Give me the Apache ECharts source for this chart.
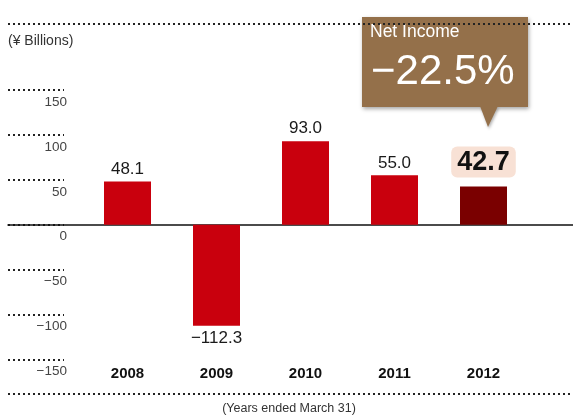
<!DOCTYPE html>
<html><head><meta charset="utf-8">
<script src="https://cdn.jsdelivr.net/npm/echarts@6/dist/echarts.min.js"></script>
<style>html,body{margin:0;padding:0;background:#fff}#c{width:573px;height:420px}</style>
</head><body><div id="c"></div>
<script>
var years = ['2008', '2009', '2010', '2011', '2012'];
var netIncome = [48.1, -112.3, 93.0, 55.0, 42.7];
var valueLabels = ['48.1', '\u2212112.3', '93.0', '55.0', '42.7'];
var yTicks = [-150, -100, -50, 0, 50, 100, 150];
var unitLabel = '(\u00a5 Billions)';
var xNote = '(Years ended March 31)';
var calloutTitle = 'Net Income';
var calloutValue = '\u221222.5%';

var FONT = "'Liberation Sans', Arial, sans-serif";
var RED = '#c9000d', DARK = '#7a0000';
var yMin = yTicks[0], yMax = yTicks[yTicks.length - 1];
var gridTop = 90, gridBottom = 60.5;

var barData = netIncome.map(function (v, i) {
  var last = i === netIncome.length - 1;
  var item = {
    value: v,
    itemStyle: { color: last ? DARK : RED },
    label: {
      show: true,
      position: v < 0 ? 'bottom' : 'top',
      distance: 4,
      formatter: valueLabels[i],
      fontFamily: FONT,
      fontSize: 17,
      color: '#1a1a1a'
    }
  };
  if (last) {
    item.label.fontSize = 27;
    item.label.fontWeight = 'bold';
    item.label.color = '#111';
    item.label.backgroundColor = '#f8e1d5';
    item.label.borderRadius = 6;
    item.label.padding = [3, 6, 1, 6];
    item.label.distance = 9;
  }
  return item;
});

var chart = echarts.init(document.getElementById('c'), null, { renderer: 'canvas' });
chart.setOption({
  animation: false,
  grid: [
    { left: 8, right: 0, top: gridTop, bottom: gridBottom },
    { left: 8, width: 56, top: gridTop, bottom: gridBottom },
    { left: 83, width: 445, top: gridTop, bottom: gridBottom }
  ],
  xAxis: [
    { gridIndex: 0, type: 'value', min: 0, max: 1, axisLine: { show: true, onZero: true, lineStyle: { color: '#111', width: 1.5 } },
      axisTick: { show: false }, axisLabel: { show: false }, splitLine: { show: false } },
    { gridIndex: 1, type: 'value', show: false },
    { gridIndex: 2, type: 'category', data: years,
      axisLine: { show: false }, axisTick: { show: false },
      axisLabel: { fontFamily: FONT, fontSize: 15, fontWeight: 'bold', color: '#111', margin: 7 } }
  ],
  yAxis: [
    { gridIndex: 0, type: 'value', min: yMin, max: yMax, interval: 50, show: false },
    { gridIndex: 1, type: 'value', min: yMin, max: yMax, interval: 50,
      axisLine: { show: false }, axisTick: { show: false },
      axisLabel: { margin: -59, fontFamily: FONT, fontSize: 13.5, color: '#444',
        verticalAlign: 'top', lineHeight: 24,
        formatter: function (v) { return v < 0 ? '\u2212' + Math.abs(v) : String(v); } },
      splitLine: { show: true, lineStyle: { color: '#222', width: 2, type: [2, 3] } } },
    { gridIndex: 2, type: 'value', min: yMin, max: yMax, interval: 50, show: false }
  ],
  series: [
    { type: 'bar', xAxisIndex: 2, yAxisIndex: 2, data: barData, barWidth: 47 }
  ],
  graphic: [
    { type: 'line', shape: { x1: 8, y1: 24, x2: 573, y2: 24 }, style: { stroke: '#222', lineWidth: 2, lineDash: [2, 3] }, z: 1 },
    { type: 'line', shape: { x1: 8, y1: 394, x2: 573, y2: 394 }, style: { stroke: '#222', lineWidth: 2, lineDash: [2, 3] }, z: 1 },
    { type: 'text', x: 8, y: 41, style: { text: unitLabel, fontFamily: FONT, fontSize: 14, fill: '#333', verticalAlign: 'middle' } },
    { type: 'text', x: 289, y: 409, style: { text: xNote, fontFamily: FONT, fontSize: 12.5, fill: '#333', align: 'center', verticalAlign: 'middle' } },
    { type: 'group', z: 10, children: [
      { type: 'rect', shape: { x: 362, y: 17, width: 166, height: 90 },
        style: { fill: '#94704a', shadowBlur: 4, shadowOffsetX: 1, shadowOffsetY: 2, shadowColor: 'rgba(0,0,0,0.35)' } },
      { type: 'polygon', shape: { points: [[480, 106], [498, 106], [488, 127]] },
        style: { fill: '#94704a', shadowBlur: 3, shadowOffsetX: 1, shadowOffsetY: 2, shadowColor: 'rgba(0,0,0,0.3)' } },
      { type: 'rect', shape: { x: 362, y: 17, width: 166, height: 90 }, style: { fill: '#94704a' } },
      { type: 'text', x: 370, y: 32, style: { text: calloutTitle, fontFamily: FONT, fontSize: 17.5, fill: '#fff', verticalAlign: 'middle' } },
      { type: 'text', x: 371, y: 72, style: { text: calloutValue, fontFamily: FONT, fontSize: 42, fill: '#fff', verticalAlign: 'middle' } }
    ] }
  ]
});
</script></body></html>
